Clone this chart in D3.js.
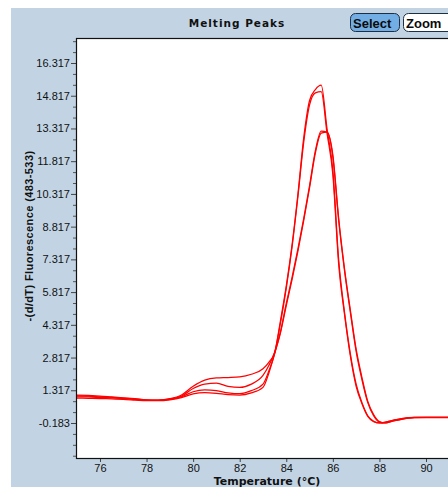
<!DOCTYPE html>
<meta charset="utf-8">
<style>
body { margin: 0; background: #fff; }
text { font-family: "Liberation Sans", Arial, sans-serif; }
.curve { fill: none; stroke: #ff0000; stroke-width: 1.25px; }
</style>
<svg width="448" height="487"></svg>
<script src="https://cdn.jsdelivr.net/npm/d3@7/dist/d3.min.js"></script>
<script>

// temperatures (°C)
var temps = [75, 75.5, 76, 76.5, 77, 77.5, 78, 78.5, 79, 79.5, 80, 80.5, 81, 81.5, 82, 82.5,
  83, 83.25, 83.5, 83.75, 84, 84.25, 84.5, 84.75, 85, 85.25, 85.5, 85.75, 86, 86.25, 86.5,
  86.75, 87, 87.25, 87.5, 87.75, 88, 88.25, 88.5, 89, 89.5, 90, 90.5, 91, 91.5]

// -(d/dT) fluorescence, one list per sample
var sampleA1 = [1.10, 1.08, 1.05, 1.01, 0.97, 0.93, 0.88, 0.87, 0.93, 1.10, 1.50, 1.78, 1.88, 1.90, 1.93, 2.05,
  2.30, 2.60, 3.05, 4.50, 6.10, 8.00, 10.3, 12.9, 14.6, 15.1, 15.3, 13.3, 11.4, 7.3, 4.9,
  3.0, 1.6, 0.75, 0.15, -0.10, -0.18, -0.15, -0.08, 0.03, 0.07, 0.07, 0.07, 0.07, 0.07]
var sampleA2 = [1.02, 1.01, 0.99, 0.97, 0.94, 0.90, 0.86, 0.85, 0.90, 1.02, 1.25, 1.33, 1.30, 1.20, 1.16, 1.30,
  1.60, 2.20, 3.00, 4.40, 6.00, 7.90, 10.2, 12.7, 14.4, 14.95, 15.0, 13.1, 11.2, 7.1, 4.8,
  2.9, 1.5, 0.70, 0.12, -0.12, -0.18, -0.14, -0.08, 0.02, 0.06, 0.06, 0.06, 0.06, 0.06]
var sampleB1 = [1.06, 1.05, 1.02, 0.99, 0.96, 0.92, 0.87, 0.86, 0.91, 1.05, 1.40, 1.60, 1.64, 1.50, 1.45, 1.60,
  2.00, 2.45, 3.05, 4.00, 5.30, 6.50, 7.80, 9.20, 10.7, 12.3, 13.2, 13.15, 12.1, 9.2, 6.9,
  5.0, 3.2, 1.9, 0.8, 0.2, -0.12, -0.18, -0.12, 0.0, 0.06, 0.08, 0.08, 0.08, 0.08]
var sampleB2 = [0.96, 0.95, 0.94, 0.92, 0.90, 0.87, 0.84, 0.84, 0.88, 0.98, 1.15, 1.21, 1.18, 1.12, 1.10, 1.20,
  1.45, 2.10, 3.00, 3.95, 5.20, 6.40, 7.70, 9.10, 10.6, 12.2, 13.1, 13.15, 12.0, 9.1, 6.8,
  4.9, 3.1, 1.8, 0.75, 0.15, -0.14, -0.18, -0.11, 0.01, 0.07, 0.08, 0.08, 0.08, 0.08]

var yTicks = [-0.183, 1.317, 2.817, 4.317, 5.817, 7.317, 8.817, 10.317, 11.817, 13.317, 14.817, 16.317]
var xTicks = [76, 78, 80, 82, 84, 86, 88, 90]

var series = [sampleA1, sampleA2, sampleB1, sampleB2]

var svg = d3.select("svg")

var plotLeft = 76, plotRight = 460, plotTop = 38, plotBottom = 458

// blue panel
svg.append("rect")
  .attr("x", 11).attr("y", 8)
  .attr("width", 448).attr("height", 487)
  .attr("fill", "#c2d4e4")

svg.append("text")
  .attr("x", 237).attr("y", 27)
  .attr("text-anchor", "middle")
  .style("font-family", "'DejaVu Sans', Verdana, sans-serif")
  .style("font-weight", "bold")
  .style("font-size", "10.5px")
  .style("letter-spacing", "1px")
  .attr("fill", "#111")
  .text("Melting Peaks")

// buttons
var buttons = [{label: "Select", x: 350, w: 49, fill: "#72aee3"}, {label: "Zoom", x: 403, w: 56, fill: "#fff"}]
buttons.forEach(function(b) {
  svg.append("rect")
    .attr("x", b.x + 0.5).attr("y", 13.5)
    .attr("width", b.w).attr("height", 18)
    .attr("rx", 5)
    .attr("fill", b.fill)
    .attr("stroke", "#1d2f44")
  svg.append("text")
    .attr("x", b.x + 3).attr("y", 27.5)
    .style("font-size", "13px")
    .style("font-weight", "bold")
    .attr("fill", "#0a0a0a")
    .text(b.label)
})

var x = d3.scaleLinear()
  .domain([74.97, 91.46])
  .range([plotLeft, plotRight])

var y = d3.scaleLinear()
  .domain([-1.787, 17.463])
  .range([plotBottom, plotTop])

svg.append("rect")
  .attr("x", plotLeft).attr("y", plotTop)
  .attr("width", plotRight - plotLeft).attr("height", plotBottom - plotTop)
  .attr("fill", "#fff")

svg.append("clipPath").attr("id", "clip")
  .append("rect")
  .attr("x", plotLeft).attr("y", plotTop)
  .attr("width", plotRight - plotLeft).attr("height", plotBottom - plotTop)

// y axis with minor ticks
var minor = []
yTicks.forEach(function(t) { minor.push(t + 0.5, t + 1.0) })
minor.push(yTicks[0] - 0.5, yTicks[0] - 1.0, yTicks[0] - 1.5)
minor = minor.filter(function(v) { return v < 17.46 && v > -1.78 })

svg.append("g")
  .attr("transform", "translate(" + plotLeft + ",0)")
  .call(d3.axisLeft(y).tickValues(minor).tickSize(3).tickFormat(""))
  .call(function(g) { g.select(".domain").remove() })
  .selectAll("line").attr("stroke", "#555")

var yAxis = svg.append("g")
  .attr("transform", "translate(" + plotLeft + ",0)")
  .call(d3.axisLeft(y).tickValues(yTicks).tickSize(5).tickPadding(1)
    .tickFormat(function(d) { return d.toFixed(3) }))
yAxis.select(".domain").remove()
yAxis.selectAll("text")
  .style("font-size", "11px")
  .style("font-family", "'Liberation Sans', Arial, sans-serif")
  .attr("fill", "#111")
yAxis.selectAll("line").attr("stroke", "#444")

var xAxis = svg.append("g")
  .attr("transform", "translate(0," + plotBottom + ")")
  .call(d3.axisBottom(x).tickValues(xTicks).tickSize(4).tickPadding(2))
xAxis.select(".domain").remove()
xAxis.selectAll("text")
  .style("font-size", "11px")
  .style("font-family", "'Liberation Sans', Arial, sans-serif")
  .attr("fill", "#111")
xAxis.selectAll("line").attr("stroke", "#444")

var line = d3.line()
  .x(function(d, i) { return x(temps[i]) })
  .y(function(d) { return y(d) })
  .curve(d3.curveMonotoneX)

svg.append("g")
  .attr("clip-path", "url(#clip)")
  .selectAll("path")
  .data(series)
  .enter().append("path")
    .attr("class", "curve")
    .attr("d", line)

// frame
svg.append("rect")
  .attr("x", plotLeft + 0.5).attr("y", plotTop + 0.5)
  .attr("width", plotRight - plotLeft).attr("height", plotBottom - plotTop)
  .attr("fill", "none")
  .attr("stroke", "#111")
  .attr("stroke-width", 1.2)

svg.append("text")
  .attr("x", 267).attr("y", 485)
  .attr("text-anchor", "middle")
  .style("font-family", "'DejaVu Sans', Verdana, sans-serif")
  .style("font-weight", "bold")
  .style("font-size", "11px")
  .attr("fill", "#111")
  .text("Temperature (°C)")

svg.append("text")
  .attr("transform", "translate(33,236) rotate(-90)")
  .attr("text-anchor", "middle")
  .style("font-weight", "bold")
  .style("font-size", "11px")
  .style("letter-spacing", "0.4px")
  .attr("fill", "#111")
  .text("-(d/dT) Fluorescence (483-533)")

</script>
